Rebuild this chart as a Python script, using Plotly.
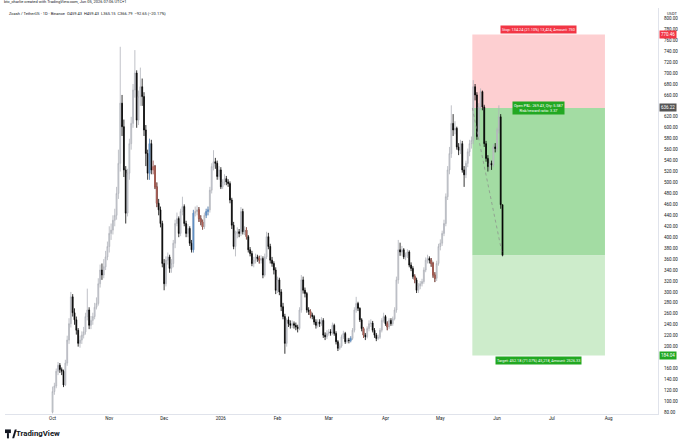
import pandas as pd
import plotly.graph_objects as go

# ---------------- data ----------------
first_open = 80
close = [118,128,155,166,158,155,130,170,212,242,
         291,262,249,230,206,212,221,227,255,267,
         239,248,255,272,279,315,340,331,346,364,
         383,407,413,431,440,480,535,645,602,523,
         444,517,571,608,669,700,614,657,675,657,
         596,553,517,571,523,529,492,462,450,425,
         352,315,358,364,343,352,389,425,434,407,
         447,456,425,407,416,389,377,444,447,450,
         434,428,419,440,447,450,486,529,538,535,
         511,523,492,501,507,501,498,468,422,383,
         407,410,407,447,410,413,401,377,370,352,
         358,364,361,358,361,331,364,401,383,358,
         352,340,303,322,300,273,255,206,249,242,
         239,242,239,236,233,267,322,303,297,267,
         264,258,255,245,239,245,242,248,221,218,
         224,227,225,239,224,209,197,201,218,224,
         209,212,211,215,230,267,279,270,249,233,
         221,218,233,242,243,230,221,215,217,230,
         248,255,242,236,248,242,251,267,322,377,
         373,377,364,367,373,349,343,328,322,303,
         311,315,319,340,358,361,358,352,331,325,
         352,383,389,407,425,474,523,553,608,596,
         599,565,559,571,523,514,535,556,571,577,
         675,660,584,638,666,638,571,544,529,535,
         532,565,562,596,620,459.43,366.79]
high = [127,134,160,172,170,162,158,176,220,252,
        300,296,270,255,234,220,228,236,262,306,
        272,256,262,280,290,325,350,352,360,375,
        392,420,425,440,452,492,560,748,660,615,
        530,525,580,620,680,742,705,668,710,690,
        665,605,560,580,578,540,532,500,470,456,
        430,360,365,372,368,360,395,432,445,438,
        452,474,460,430,424,420,395,450,456,458,
        455,440,432,445,452,456,492,535,559,545,
        540,530,528,506,515,512,506,502,472,428,
        412,418,415,455,452,420,418,404,382,375,
        364,370,368,366,367,365,370,410,408,388,
        364,356,345,328,326,305,280,260,252,255,
        248,248,246,244,240,272,331,328,308,300,
        272,268,262,258,250,250,250,254,252,226,
        230,232,232,244,242,228,212,206,222,229,
        227,216,216,219,234,272,291,282,272,252,
        236,225,237,248,250,247,234,225,222,234,
        252,262,258,246,252,252,255,272,328,395,
        390,384,380,372,378,376,354,347,332,326,
        316,320,324,345,363,368,365,362,355,336,
        357,388,396,412,432,480,530,565,641,625,
        612,602,572,578,576,530,540,562,578,584,
        687,680,665,645,672,668,642,576,550,542,
        540,570,572,600,641,625,459.43]
low = [78,112,124,148,152,148,126,128,165,205,
       235,255,240,222,200,198,205,215,222,248,
       232,232,240,250,268,275,308,322,325,340,
       358,372,395,405,420,432,470,520,585,510,
       425,438,505,560,600,655,600,605,640,640,
       585,530,505,505,515,515,488,455,440,418,
       345,303,310,350,335,335,345,380,420,400,
       402,440,420,400,400,384,372,372,438,440,
       428,422,414,415,435,440,445,480,522,525,
       505,505,488,488,495,495,492,462,415,378,
       365,398,400,402,405,404,396,372,365,347,
       345,352,355,352,352,325,328,360,378,352,
       346,332,296,298,294,265,250,187,200,236,
       233,234,233,230,226,230,262,297,290,262,
       258,252,250,240,233,235,236,238,216,212,
       214,220,220,222,220,204,192,194,198,214,
       205,206,206,208,212,226,262,265,245,228,
       216,212,215,228,236,226,216,210,212,214,
       226,244,238,230,232,238,238,248,262,315,
       366,366,360,358,362,345,338,324,316,298,
       298,305,310,315,336,352,352,346,326,318,
       320,348,376,384,402,420,468,515,545,585,
       588,560,550,552,518,492,508,528,548,562,
       570,650,578,580,632,632,565,538,520,522,
       523,528,555,556,590,452,365.15]
start_date = "2025-10-01"

# candles that the reference shows tinted (index = day number from start_date)
red_tinted = [55, 56, 57, 80, 81, 82, 106, 113, 141, 170, 183, 198, 207, 208, 209]
blue_tinted = [53, 77, 84, 85, 163]

month_ticks = ["2025-10-01","2025-11-01","2025-12-01","2026-01-01","2026-02-01","2026-03-01",
               "2026-04-01","2026-05-01","2026-06-01","2026-07-01","2026-08-01"]
month_labels = ["Oct","Nov","Dec","2026","Feb","Mar","Apr","May","Jun","Jul","Aug"]
price_ticks = [80,100,120,140,160,200,220,240,260,280,300,320,340,360,380,400,420,440,460,480,
               500,520,540,560,580,600,620,660,680,700,720,740,760,780,800]

entry_price = 636.22
stop_price = 770.46
target_price = 184.04
entry_date = "2026-05-18 12:00"
box_end_date = "2026-07-30"

header1 = "btc_charlie created with TradingView.com, Jun 05, 2026 07:06 UTC+1"
header2 = "Zcash / TetherUS · 1D · Binance  O459.43  H459.43  L365.15  C366.79  −92.65 (−20.17%)"
stop_text = "Stop: 134.24 (21.10%) 13,424, Amount: 750"
entry_text = "Open P&L: 269.43, Qty: 5.587<br>Risk/reward ratio: 3.37"
target_text = "Target: 452.18 (71.07%) 45,218, Amount: 2526.33"

# ---------------- build ----------------
assert len(close) == len(high) == len(low)
dates = pd.date_range(start_date, periods=len(close), freq="D")
opens = [first_open] + close[:-1]
last_date = dates[-1]
last_close = close[-1]

fig = go.Figure()

# position tool zones
fig.add_shape(type="rect", xref="x", yref="y", x0=entry_date, x1=box_end_date,
              y0=entry_price, y1=stop_price, fillcolor="#fdcfd1", line_width=0, layer="below")
fig.add_shape(type="rect", xref="x", yref="y", x0=entry_date, x1=box_end_date,
              y0=last_close, y1=entry_price, fillcolor="#a3dca3", line_width=0, layer="below")
fig.add_shape(type="rect", xref="x", yref="y", x0=entry_date, x1=box_end_date,
              y0=target_price, y1=last_close, fillcolor="#cdeccb", line_width=0, layer="below")

fig.add_trace(go.Candlestick(
    x=dates, open=opens, high=high, low=low, close=close,
    increasing=dict(line=dict(color="#b0b3ba", width=0.8), fillcolor="#d6d8dd"),
    decreasing=dict(line=dict(color="#000000", width=0.8), fillcolor="#000000"),
    whiskerwidth=0, hoverinfo="skip", showlegend=False))

for idx, col in [(red_tinted, "#b5665c"), (blue_tinted, "#5d8ec4")]:
    fig.add_trace(go.Candlestick(
        x=[dates[i] for i in idx], open=[opens[i] for i in idx], high=[high[i] for i in idx],
        low=[low[i] for i in idx], close=[close[i] for i in idx],
        increasing=dict(line=dict(color=col, width=0.8), fillcolor=col),
        decreasing=dict(line=dict(color=col, width=0.8), fillcolor=col),
        whiskerwidth=0, hoverinfo="skip", showlegend=False))

fig.add_trace(go.Scatter(x=[entry_date, last_date], y=[entry_price, last_close],
                         mode="lines", line=dict(color="#8a8a8a", width=0.7, dash="dot"),
                         hoverinfo="skip", showlegend=False))

fig.update_layout(
    width=680, height=442,
    margin=dict(l=5, r=22, t=8, b=28),
    paper_bgcolor="white", plot_bgcolor="white",
    font=dict(family="Roboto, Arial, sans-serif", color="#131722"),
    showlegend=False,
    xaxis=dict(type="date", range=["2025-09-05", "2026-08-28"], rangeslider=dict(visible=False),
               tickvals=month_ticks, ticktext=month_labels, tickfont=dict(size=4.5, color="#131722"),
               showgrid=False, zeroline=False, showline=True, linecolor="#e0e3eb", linewidth=1,
               ticks="", fixedrange=True, automargin=False),
    yaxis=dict(side="right", range=[76.9, 818.9], tickvals=price_ticks,
               ticktext=[f"{v:.2f}" for v in price_ticks], tickfont=dict(size=4.5, color="#131722"),
               showgrid=False, zeroline=False, showline=True, linecolor="#e0e3eb", linewidth=1,
               ticks="", ticklabelstandoff=4, fixedrange=True, automargin=False),
)

ann = []
ann.append(dict(xref="paper", yref="paper", x=-0.004, y=1.017, xanchor="left", yanchor="middle",
                text=header1, showarrow=False, font=dict(size=4, color="#131722")))
ann.append(dict(xref="paper", yref="paper", x=0.003, y=0.987, xanchor="left", yanchor="middle",
                text=header2, showarrow=False, font=dict(size=4, color="#131722")))
ann.append(dict(xref="paper", yref="paper", x=1, y=0.987, xanchor="left", yanchor="middle", xshift=7,
                text="USDT", showarrow=False, font=dict(size=4, color="#131722")))
# position labels
mid_box = "2026-06-23 12:00"
ann.append(dict(xref="x", yref="y", x=mid_box, y=stop_price, yanchor="bottom", yshift=0.5,
                text=stop_text, showarrow=False, bgcolor="#f23645", borderpad=1,
                font=dict(size=3.8, color="white")))
ann.append(dict(xref="x", yref="y", x=mid_box, y=entry_price, yanchor="middle",
                text=entry_text, showarrow=False, bgcolor="#22a822", borderpad=1,
                font=dict(size=3.8, color="white")))
ann.append(dict(xref="x", yref="y", x=mid_box, y=target_price, yanchor="top", yshift=-0.5,
                text=target_text, showarrow=False, bgcolor="#22a822", borderpad=1,
                font=dict(size=3.8, color="white")))
# axis price labels
for p, col in [(stop_price, "#f23645"), (entry_price, "#555555"), (target_price, "#22a822")]:
    ann.append(dict(xref="paper", yref="y", x=1, y=p, xanchor="left", yanchor="middle", xshift=1,
                    text=f"{p:.2f}", showarrow=False, bgcolor=col, borderpad=1,
                    font=dict(size=4.5, color="white")))
# TradingView watermark
ann.append(dict(xref="paper", yref="paper", x=0.014, y=-0.048, xanchor="left", yanchor="middle",
                text="<b>TradingView</b>", showarrow=False, font=dict(size=7.8, color="#131722")))
fig.update_layout(annotations=ann)

# small logo mark next to the watermark
fig.add_shape(type="rect", xref="paper", yref="paper", x0=0.0, x1=0.009, y0=-0.047, y1=-0.038,
              fillcolor="#131722", line_width=0)
fig.add_shape(type="path", xref="paper", yref="paper",
              path="M 0.003,-0.047 L 0.006,-0.047 L 0.006,-0.060 L 0.003,-0.060 Z",
              fillcolor="#131722", line_width=0)
fig.add_shape(type="path", xref="paper", yref="paper",
              path="M 0.011,-0.060 L 0.015,-0.038 L 0.018,-0.038 L 0.014,-0.060 Z",
              fillcolor="#131722", line_width=0)

fig.write_html("out.html", config={"displayModeBar": False},
               post_script="document.body.style.margin='0px';document.body.style.overflow='hidden';")
